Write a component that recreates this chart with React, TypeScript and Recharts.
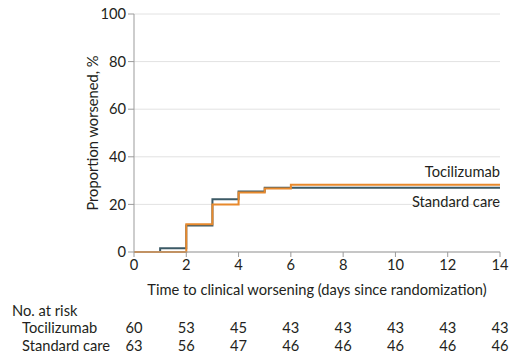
import React from 'react';
import { LineChart, Line, XAxis, YAxis, CartesianGrid } from 'recharts';

const days = [0, 1, 2, 3, 4, 5, 6, 14];
const tocilizumab = [0, 0, 11.7, 20, 25, 26.7, 28.3, 28.3];
const standardCare = [0, 1.6, 11.1, 22.2, 25.4, 27.0, 27.0, 27.0];

const xTicks = [0, 2, 4, 6, 8, 10, 12, 14];
const yTicks = [0, 20, 40, 60, 80, 100];
const riskTocilizumab = [60, 53, 45, 43, 43, 43, 43, 43];
const riskStandard = [63, 56, 47, 46, 46, 46, 46, 46];

const data = days.map((d, i) => ({ day: d, toci: tocilizumab[i], std: standardCare[i] }));

const FONT = 'Lato, "Open Sans", sans-serif';
const FS = 14.7;
const TEXT = '#231f20';
const ORANGE = '#e8892c';
const SLATE = '#3c5a66';
const AXIS = '#9b9b9b';

const XLabel = (props: any) => {
  const vb = props.viewBox || {};
  return (
    <text x={vb.x + vb.width / 2} y={vb.y + 43} textAnchor="middle" fill={TEXT} fontSize={FS} fontFamily={FONT}>
      Time to clinical worsening (days since randomization)
    </text>
  );
};

const YLabel = (props: any) => {
  const vb = props.viewBox || {};
  const cx = 92;
  const cy = vb.y + vb.height / 2;
  return (
    <text x={cx} y={cy} transform={`rotate(-90 ${cx} ${cy})`} textAnchor="middle" dominantBaseline="central" fill={TEXT} fontSize={FS} fontFamily={FONT}>
      Proportion worsened, %
    </text>
  );
};

const RiskTick1 = (p: any) => (
  <g>
    {p.index === 0 && (
      <>
        <text x={12} y={p.y + 14} fill={TEXT} fontSize={FS} fontFamily={FONT}>No. at risk</text>
        <text x={22} y={p.y + 31} fill={TEXT} fontSize={FS} fontFamily={FONT}>Tocilizumab</text>
      </>
    )}
    <text x={p.x} y={p.y + 31} textAnchor="middle" fill={TEXT} fontSize={FS} fontFamily={FONT}>
      {riskTocilizumab[p.index]}
    </text>
  </g>
);

const RiskTick2 = (p: any) => (
  <g>
    {p.index === 0 && (
      <text x={22} y={p.y + 14.5} fill={TEXT} fontSize={FS} fontFamily={FONT}>Standard care</text>
    )}
    <text x={p.x} y={p.y + 14.5} textAnchor="middle" fill={TEXT} fontSize={FS} fontFamily={FONT}>
      {riskStandard[p.index]}
    </text>
  </g>
);

const lastIdx = days.length - 1;

const tociLabel = (p: any) =>
  p.index === lastIdx ? (
    <text x={p.x} y={p.y - 8} textAnchor="end" fill={TEXT} fontSize={FS} fontFamily={FONT}>Tocilizumab</text>
  ) : null;

const stdLabel = (p: any) =>
  p.index === lastIdx ? (
    <text x={p.x} y={p.y + 19} textAnchor="end" fill={TEXT} fontSize={FS} fontFamily={FONT}>Standard care</text>
  ) : null;

export default function App() {
  return (
    <div style={{ position: 'absolute', left: 0, top: 0, width: 510, height: 354, background: '#fff' }}>
      <LineChart width={510} height={354} data={data} margin={{ top: 14, right: 10, bottom: 0, left: 0 }}>
        <CartesianGrid vertical={false} stroke="#e2e2e2" />
        <XAxis
          xAxisId="main"
          dataKey="day"
          type="number"
          domain={[0, 14]}
          ticks={xTicks}
          height={50}
          stroke={AXIS}
          tickSize={5}
          tickMargin={3}
          tick={{ fill: TEXT, fontSize: FS, fontFamily: FONT }}
          label={<XLabel />}
        />
        <XAxis
          xAxisId="r1"
          dataKey="day"
          type="number"
          domain={[0, 14]}
          ticks={xTicks}
          height={34}
          axisLine={false}
          tickLine={false}
          tickSize={0}
          tickMargin={0}
          tick={RiskTick1}
        />
        <XAxis
          xAxisId="r2"
          dataKey="day"
          type="number"
          domain={[0, 14]}
          ticks={xTicks}
          height={18}
          axisLine={false}
          tickLine={false}
          tickSize={0}
          tickMargin={0}
          tick={RiskTick2}
        />
        <YAxis
          domain={[0, 100]}
          ticks={yTicks}
          width={134}
          stroke={AXIS}
          tickSize={6}
          tickMargin={2}
          tick={{ fill: TEXT, fontSize: FS, fontFamily: FONT }}
          label={<YLabel />}
        />
        <Line
          xAxisId="main"
          type="stepAfter"
          dataKey="std"
          stroke={SLATE}
          strokeWidth={2}
          dot={false}
          isAnimationActive={false}
          label={stdLabel}
        />
        <Line
          xAxisId="main"
          type="stepAfter"
          dataKey="toci"
          stroke={ORANGE}
          strokeWidth={2}
          dot={false}
          isAnimationActive={false}
          label={tociLabel}
        />
      </LineChart>
    </div>
  );
}
